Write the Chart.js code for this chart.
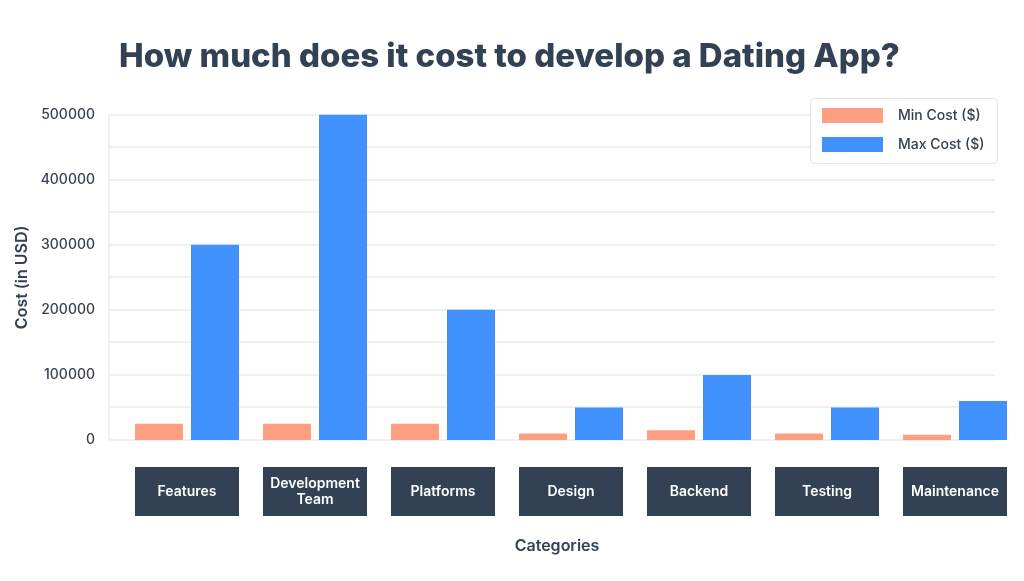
<!DOCTYPE html>
<html>
<head>
<meta charset="utf-8">
<script src="https://cdn.jsdelivr.net/npm/chart.js@4"></script>
<style>
  html, body { margin: 0; padding: 0; background: #fff; }
  #wrap { width: 1024px; height: 581px; }
</style>
</head>
<body>
<div id="wrap"><canvas id="myChart"></canvas></div>
<script>
const categories = ['Features', 'Development Team', 'Platforms', 'Design', 'Backend', 'Testing', 'Maintenance'];
const minCost = [25000, 25000, 25000, 10000, 15000, 10000, 8000];
const maxCost = [300000, 500000, 200000, 50000, 100000, 50000, 60000];
const seriesNames = ['Min Cost ($)', 'Max Cost ($)'];
const yTicks = [0, 100000, 200000, 300000, 400000, 500000];

const dark = '#334155';
const salmon = '#fe9f82';
const blue = '#4191ff';

// light grid behind the bars, from the axis line to the right edge
const gridPlugin = {
  id: 'grid',
  beforeDatasetsDraw(chart) {
    const c = chart.ctx, y = chart.scales.y, a = chart.chartArea;
    c.save();
    c.strokeStyle = '#eef0f4';
    c.lineWidth = 2;
    y.ticks.forEach(t => {
      const py = Math.round(y.getPixelForValue(t.value));
      c.beginPath();
      c.moveTo(109, py);
      c.lineTo(995, py);
      c.stroke();
    });
    c.beginPath();
    c.moveTo(109, a.top);
    c.lineTo(109, a.bottom);
    c.stroke();
    c.restore();
  }
};

// dark boxes with the category names, axis title, legend box
const labelPlugin = {
  id: 'labels',
  afterDraw(chart) {
    const c = chart.ctx, x = chart.scales.x;
    c.save();
    c.font = '600 14px Inter';
    c.textAlign = 'center';
    c.textBaseline = 'middle';
    chart.data.labels.forEach((lab, i) => {
      const cx = x.getPixelForValue(i);
      c.fillStyle = dark;
      c.fillRect(cx - 52, 467, 104, 49);
      c.fillStyle = '#fff';
      if (c.measureText(lab).width > 96) {
        const words = lab.split(' ');
        c.fillText(words[0], cx, 484);
        c.fillText(words.slice(1).join(' '), cx, 500);
      } else {
        c.fillText(lab, cx, 492);
      }
    });

    c.fillStyle = dark;
    c.font = '600 16px Inter';
    c.fillText('Categories', 557, 546);

    // legend
    c.fillStyle = '#fff';
    c.strokeStyle = '#e3e6ec';
    c.lineWidth = 1;
    c.beginPath();
    c.roundRect(810.5, 98.5, 187, 65, 4);
    c.fill();
    c.stroke();
    c.font = '500 14px Inter';
    c.textAlign = 'left';
    chart.data.datasets.forEach((ds, i) => {
      const ty = 116 + i * 29;
      c.fillStyle = ds.backgroundColor;
      c.fillRect(822, ty - 8, 61, 15);
      c.fillStyle = '#374151';
      c.fillText(ds.label, 898, ty);
    });
    c.restore();
  }
};

new Chart(document.getElementById('myChart'), {
  type: 'bar',
  data: {
    labels: categories,
    datasets: [
      { label: seriesNames[0], data: minCost, backgroundColor: salmon },
      { label: seriesNames[1], data: maxCost, backgroundColor: blue }
    ]
  },
  options: {
    responsive: true,
    maintainAspectRatio: false,
    animation: false,
    datasets: { bar: { categoryPercentage: 0.875, barPercentage: 0.857 } },
    layout: { padding: { left: 0, right: 5, top: 0, bottom: 0 } },
    plugins: {
      legend: { display: false },
      tooltip: { enabled: false },
      title: {
        display: true,
        text: 'How much does it cost to develop a Dating App?',
        color: dark,
        font: { family: 'Inter', size: 33, weight: '800' },
        padding: { top: 37, bottom: 38 }
      }
    },
    scales: {
      x: {
        afterFit: s => { s.height = 141; },
        grid: { display: false, drawTicks: false },
        border: { display: false },
        ticks: { display: false }
      },
      y: {
        min: 0,
        max: 500000,
        afterFit: s => { s.width = 123; },
        afterBuildTicks: s => { s.ticks = []; for (let v = 0; v <= 500000; v += 50000) s.ticks.push({ value: v }); },
        grid: { display: false, drawTicks: false },
        border: { display: false },
        ticks: {
          padding: 28,
          color: '#374151',
          font: { family: 'Inter', size: 14, weight: '500' },
          callback: v => yTicks.includes(v) ? String(v) : ''
        },
        title: {
          display: true,
          text: 'Cost (in USD)',
          color: dark,
          font: { family: 'Inter', size: 16, weight: '600' },
          padding: { top: 13, bottom: 0 }
        }
      }
    }
  },
  plugins: [gridPlugin, labelPlugin]
});
</script>
</body>
</html>
